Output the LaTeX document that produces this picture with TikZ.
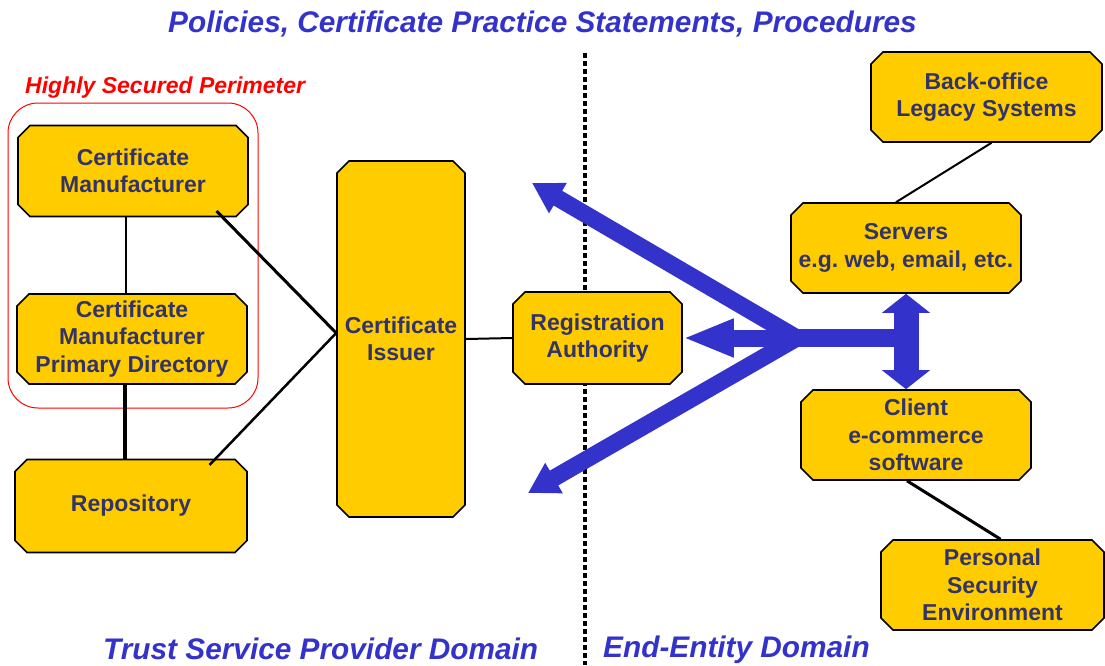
\documentclass[tikz,border=0pt]{standalone}
\usepackage{fontspec}
\setmainfont{Liberation Sans}
\usetikzlibrary{positioning}
\usetikzlibrary{arrows.meta}
\usetikzlibrary{calc}
\usetikzlibrary{shapes.misc}
\definecolor{gold}{RGB}{255,204,0}
\definecolor{navy}{RGB}{51,51,102}
\definecolor{royal}{RGB}{51,51,204}
\frenchspacing

\begin{document}
\begin{tikzpicture}[x=1pt, y=-1pt,
box/.style={chamfered rectangle, chamfered rectangle xsep=6pt, chamfered rectangle ysep=6pt,
  draw=black, line width=1.6pt, fill=gold, text=navy, align=center, inner sep=0pt,
  font=\fontsize{23}{27.5}\selectfont\bfseries},
link/.style={line width=#1, black},
fat/.style={royal, line width=#1},
zonelabel/.style={text=royal, font=\fontsize{29.8}{34}\selectfont\bfseries\itshape, inner sep=0pt}]
\useasboundingbox (0,0) rectangle (1105,665);

% perimeter round the manufacturer
\node [draw=red, line width=1pt, rectangle, rounded corners=30pt, inner sep=0pt,
  minimum width=250pt, minimum height=305pt] (perim) at (133,255.5) {};
\node [text=red, font=\fontsize{23}{27}\selectfont\bfseries\itshape, anchor=base west, inner sep=0pt]
  (perimLabel) at (25,93) {Highly Secured Perimeter};

% domain divider
\coordinate (divTop) at (585,53) {};
\coordinate (divBottom) at (585,665) {};
\draw [line width=4.5pt, dash pattern=on 4.5pt off 3.5pt] (divTop) -- (divBottom);

\node [zonelabel, anchor=base] (title) at (542.5,32) {Policies, Certificate Practice Statements, Procedures};
\node [zonelabel, anchor=base west] (tspDomain) at (103,659) {Trust Service Provider Domain};
\node [zonelabel, anchor=base west] (eeDomain) at (603,657) {End-Entity Domain};

% trust service provider side
\node [box, minimum width=230pt, minimum height=91pt] (cm) at (133,171) {Certificate\\Manufacturer};
\node [box, minimum width=230pt, minimum height=90pt] (cmpd) at (132,339) {Certificate\\Manufacturer\\Primary Directory};
\node [box, minimum width=232pt, minimum height=93pt] (repo) at (131,506) {Repository};
\node [box, minimum width=128pt, minimum height=356pt] (ci) at (401,339) {Certificate\\Issuer};
\node [box, minimum width=169pt, minimum height=92pt] (ra) at (597.5,338) {Registration\\Authority};

% end-entity side
\node [box, minimum width=231pt, minimum height=90pt] (legacy) at (986.5,97) {Back-office\\Legacy Systems};
\node [box, minimum width=230pt, minimum height=90pt] (servers) at (906,248) {Servers\\e.g. web, email, etc.};
\node [box, minimum width=230pt, minimum height=90pt] (client) at (916,435) {Client\\e-commerce\\software};
\node [box, minimum width=223pt, minimum height=90pt] (pse) at (992.5,585) {Personal\\Security\\Environment};

\coordinate (ciIn) at ($(ci.west)+(0,-6)$) {};
\draw [link=2pt] ($(cm.south)+(-7,0)$) -- ($(cmpd.north)+(-6,0)$);
\draw [link=4pt] ($(cmpd.south)+(-7,0)$) -- ($(repo.north)+(-6,0)$);
\draw [link=3pt] ($(cm.south east)+(-26,0)$) -- (ciIn);
\draw [link=2.5pt] ($(repo.north east)+(-32,0)$) -- (ciIn);
\draw [link=2pt] (ci.east) -- (ra.west);
\draw [link=2pt] ($(legacy.south)+(5,0)$) -- ($(servers.north)+(-10,0)$);
\draw [link=3pt] ($(client.south)+(-9,0)$) -- ($(pse.north)+(8,0)$);

% blue fork
\coordinate (hub) at (797,338) {};
\coordinate (upTip) at (532,183) {};
\coordinate (downTip) at (528,493) {};
\draw [fat=17pt, -{Triangle[length=30pt,width=33pt]}] (hub) -- (upTip);
\draw [fat=17pt, -{Triangle[length=30pt,width=33pt]}] (hub) -- (downTip);
\draw [fat=17pt, -{Triangle[length=51pt,width=35pt]}] (hub) -- (ra.east);
\draw [fat=18pt] (hub) -- (hub -| servers.south);
\draw [fat=25pt, {Triangle[length=19pt,width=47pt]}-{Triangle[length=19pt,width=47pt]}] (servers.south) -- (servers.south |- client.north);
\end{tikzpicture}
\end{document}
